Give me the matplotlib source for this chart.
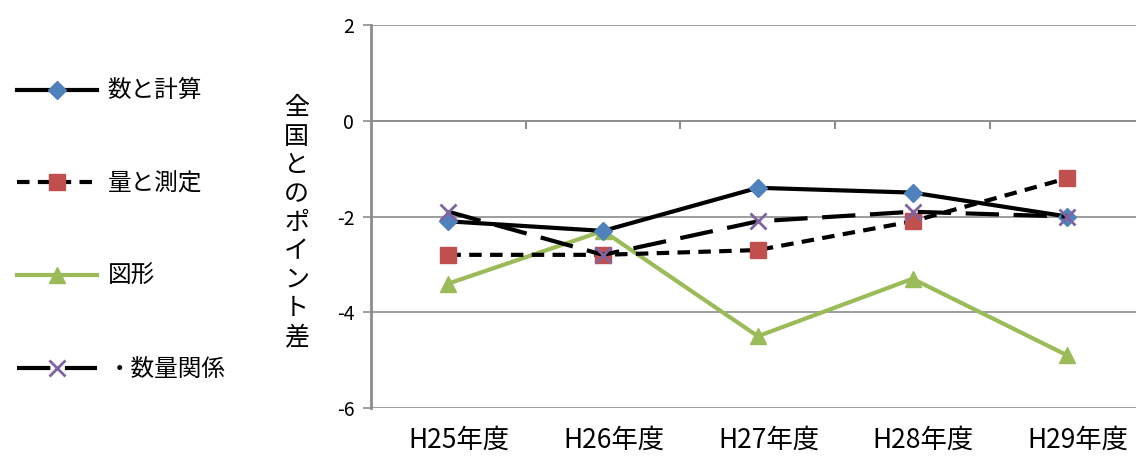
import matplotlib
matplotlib.use('Agg')
import matplotlib.pyplot as plt
import matplotlib.transforms as mtransforms

plt.rcParams['font.family'] = ['Noto Sans CJK JP', 'DejaVu Sans']

# データ (全国とのポイント差)
years = ['H25年度', 'H26年度', 'H27年度', 'H28年度', 'H29年度']
kazu_keisan = [-2.1, -2.3, -1.4, -1.5, -2.0]
ryo_sokutei = [-2.8, -2.8, -2.7, -2.1, -1.2]
zukei = [-3.4, -2.3, -4.5, -3.3, -4.9]
suryo_kankei = [-1.9, -2.8, -2.1, -1.9, -2.0]
yticks = [2, 0, -2, -4, -6]

fig = plt.figure(figsize=(11.36, 4.59), dpi=100)
ax = fig.add_axes([0.3266, 0.111, 0.681, 0.8345])

x = list(range(len(years)))
grid_c = '#8c8c8c'

ax.plot(x, kazu_keisan, color='black', lw=3, marker='D', ms=9,
        mfc='#4F81BD', mec='#4F81BD', label='数と計算', zorder=5)
ax.plot(x, ryo_sokutei, color='black', lw=3, ls=(0, (3, 2)), marker='s', ms=12,
        mfc='#C0504D', mec='#C0504D', label='量と測定', zorder=4)
ax.plot(x, zukei, color='#9BBB59', lw=3, marker='^', ms=12,
        mfc='#9BBB59', mec='#9BBB59', label='図形', zorder=3)
ax.plot(x, suryo_kankei, color='black', lw=3, ls=(0, (8, 3.5)), marker='x', ms=11,
        mew=2, mec='#8064A2', label='・数量関係', zorder=6)

ax.set_xlim(-0.5, len(years) - 0.5)
ax.set_ylim(-6, 2)
ax.set_yticks(yticks)
ax.set_yticklabels([str(v) for v in yticks], fontsize=14)
ax.yaxis.grid(True, color=grid_c, lw=1.2)
ax.set_axisbelow(True)
ax.tick_params(axis='y', length=6, width=1.2, color=grid_c, pad=6)

# 横軸は0の位置、目盛りは区切り位置
ax.spines['bottom'].set_position(('data', 0))
ax.spines['bottom'].set_color(grid_c)
ax.spines['bottom'].set_linewidth(1.2)
ax.set_xticks([i + 0.5 for i in range(len(years) - 1)])
ax.set_xticklabels([])
ax.tick_params(axis='x', length=6, width=1.5, color=grid_c)
ax.spines['left'].set_color(grid_c)
ax.spines['left'].set_linewidth(2)
ax.spines['top'].set_visible(False)
ax.spines['right'].set_visible(False)

trans = mtransforms.blended_transform_factory(ax.transData, ax.transAxes)
for i, lab in enumerate(years):
    ax.text(i + 0.07, -0.084, lab, transform=trans, ha='center', va='center', fontsize=19)

fig.text(0.261, 0.515, '\n'.join('全国とのポイント差'), ha='center', va='center',
         fontsize=18, linespacing=1.13)

fig.legend(loc='upper left', bbox_to_anchor=(-0.004, 0.872), frameon=False,
           fontsize=17, handlelength=3.4, handletextpad=0.45, labelspacing=2.95)

fig.savefig('out.png', dpi=100)
